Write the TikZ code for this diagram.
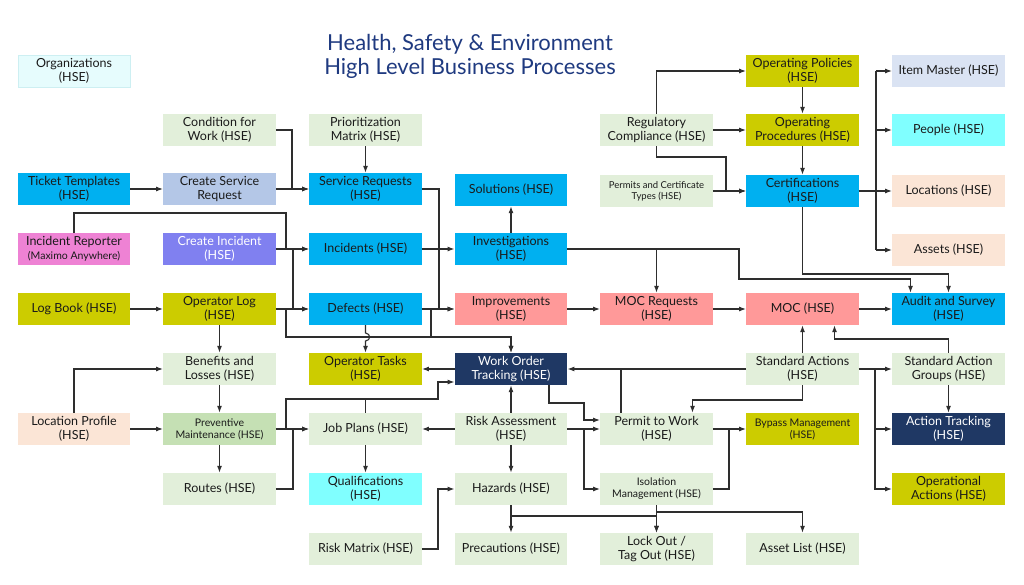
\documentclass[tikz,border=0pt]{standalone}
\usepackage{fontspec}
\setmainfont{Lato}
\usetikzlibrary{arrows.meta,calc}
\definecolor{cblue}{HTML}{00B0F0}
\definecolor{colive}{HTML}{CCCC00}
\definecolor{cpale}{HTML}{E2EFDA}
\definecolor{cpmg}{HTML}{C5E0B4}
\definecolor{csalmon}{HTML}{FF9999}
\definecolor{cnavy}{HTML}{1F3864}
\definecolor{cpeach}{HTML}{FBE5D6}
\definecolor{ccyan}{HTML}{80FFFF}
\definecolor{cimaster}{HTML}{DAE3F3}
\definecolor{ccsr}{HTML}{B4C7E7}
\definecolor{cci}{HTML}{8080F0}
\definecolor{cir}{HTML}{EE82D4}
\definecolor{corg}{HTML}{E6FCFD}
\definecolor{corgb}{HTML}{CDEFF2}
\definecolor{ctitle}{HTML}{1F3A80}
\definecolor{txt}{HTML}{1A1A1A}
\definecolor{linec}{HTML}{2E2E2E}
\begin{document}
\begin{tikzpicture}[x=1pt,y=-1pt,
  box/.style={rectangle, minimum width=112.5pt, minimum height=32pt, inner sep=1pt, align=center, font=\fontsize{12.5}{14}\selectfont, text=txt},
  smallbox/.style={box, font=\fontsize{10.5}{12}\selectfont},
  tinybox/.style={box, font=\fontsize{9.5}{11}\selectfont},
  blue/.style={fill=cblue}, olive/.style={fill=colive}, pale/.style={fill=cpale},
  salmon/.style={fill=csalmon}, navy/.style={fill=cnavy,text=white}, peach/.style={fill=cpeach},
  cyanb/.style={fill=ccyan},
  conn/.style={draw=linec, line width=1.1pt},
  arr/.style={conn, -{Latex[length=7pt,width=5pt]}}]
\useasboundingbox[fill=white] (0,0) rectangle (1024,584);

\node[font=\fontsize{22}{24}\selectfont, text=ctitle, align=center] (title) at (470,56) {Health, Safety \& Environment\\High Level Business Processes};

% column A
\node[box, fill=corg, draw=corgb, line width=0.5pt] (org) at (74,71) {Organizations\\(HSE)};
\node[box, blue] (tt) at (74,189) {Ticket Templates\\(HSE)};
\node[box, fill=cir] (ir) at (74,249) {Incident Reporter\\{\fontsize{10.5}{12}\selectfont(Maximo Anywhere)}};
\node[box, olive] (lb) at (74,309) {Log Book (HSE)};
\node[box, peach] (lp) at (74,429) {Location Profile\\(HSE)};
% column B
\node[box, pale] (cfw) at (219.5,130) {Condition for\\Work (HSE)};
\node[box, fill=ccsr] (csr) at (219.5,189) {Create Service\\Request};
\node[box, fill=cci, text=white] (ci) at (219.5,249) {Create Incident\\(HSE)};
\node[box, olive] (ol) at (219.5,309) {Operator Log\\(HSE)};
\node[box, pale] (bl) at (219.5,369) {Benefits and\\Losses (HSE)};
\node[smallbox, fill=cpmg] (pmn) at (219.5,429) {Preventive\\Maintenance (HSE)};
\node[box, pale] (rt) at (219.5,489) {Routes (HSE)};
% column C
\node[box, pale] (prio) at (365.5,130) {Prioritization\\Matrix (HSE)};
\node[box, blue] (sr) at (365.5,189) {Service Requests\\(HSE)};
\node[box, blue] (inc) at (365.5,249) {Incidents (HSE)};
\node[box, blue] (def) at (365.5,309) {Defects (HSE)};
\node[box, olive] (ot) at (365.5,369) {Operator Tasks\\(HSE)};
\node[box, pale] (jp) at (365.5,429) {Job Plans (HSE)};
\node[box, cyanb] (qual) at (365.5,489) {Qualifications\\(HSE)};
\node[box, pale] (rm) at (365.5,549) {Risk Matrix (HSE)};
% column D
\node[box, blue] (sol) at (511,190) {Solutions (HSE)};
\node[box, blue] (inv) at (511,249) {Investigations\\(HSE)};
\node[box, salmon] (impr) at (511,309) {Improvements\\(HSE)};
\node[box, navy] (wot) at (511,369) {Work Order\\Tracking (HSE)};
\node[box, pale] (ra) at (511,429) {Risk Assessment\\(HSE)};
\node[box, pale] (haz) at (511,489) {Hazards (HSE)};
\node[box, pale] (prec) at (511,549) {Precautions (HSE)};
% column E
\node[box, pale] (rc) at (656.5,130) {Regulatory\\Compliance (HSE)};
\node[tinybox, pale] (perm) at (656.5,191) {Permits and Certificate\\Types (HSE)};
\node[box, salmon] (mocr) at (656.5,309) {MOC Requests\\(HSE)};
\node[box, pale] (ptw) at (656.5,429) {Permit to Work\\(HSE)};
\node[smallbox, pale] (iso) at (656.5,489) {Isolation\\Management (HSE)};
\node[box, pale] (lo) at (656.5,549) {Lock Out /\\Tag Out (HSE)};
% column F
\node[box, olive] (op) at (802.5,71) {Operating Policies\\(HSE)};
\node[box, olive] (opr) at (802.5,130) {Operating\\Procedures (HSE)};
\node[box, blue] (cert) at (802.5,191) {Certifications\\(HSE)};
\node[box, salmon] (moc) at (802.5,309) {MOC (HSE)};
\node[box, pale] (sa) at (802.5,369) {Standard Actions\\(HSE)};
\node[smallbox, olive] (byp) at (802.5,429) {Bypass Management\\(HSE)};
\node[box, pale] (al) at (802.5,549) {Asset List (HSE)};
% column G
\node[box, fill=cimaster] (im) at (948.5,71) {Item Master (HSE)};
\node[box, cyanb] (ppl) at (948.5,130) {People (HSE)};
\node[box, peach] (loc) at (948.5,191) {Locations (HSE)};
\node[box, peach] (ast) at (948.5,250) {Assets (HSE)};
\node[box, blue] (aud) at (948.5,309) {Audit and Survey\\(HSE)};
\node[box, pale] (sag) at (948.5,369) {Standard Action\\Groups (HSE)};
\node[box, navy] (at) at (948.5,429) {Action Tracking\\(HSE)};
\node[box, olive] (oa) at (948.5,489) {Operational\\Actions (HSE)};

% ---- connectors ----
\draw[arr] (tt) -- (csr);
\draw[arr] (cfw.east) -| (292,189) -- (sr.west);
\draw[arr] (csr) -- (sr);
\draw[arr] (prio) -- (sr);
\draw[arr] (sr.east) -| (439,309) -- (impr.west);
\draw[arr] (ir.north) |- (286,213) |- (inc.west);
\draw[arr] (ci) -- (inc);
\draw[arr] (ci.east) -| (293,309) -- (def.west);
\draw[arr] (lb) -- (ol);
\draw[arr] (ol) -- (def);
\draw[arr] (ol.east) -| (286,337) -| (wot.north);
\draw[arr] (def.east) -| (431,337) -| (wot.north);
\draw[arr] (def.south) -- (365.5,333) .. controls (371,333.5) and (371,340.5) .. (365.5,341) -- (ot.north);
\draw[arr] (inc) -- (inv);
\draw[arr] (def) -- (impr);
\draw[arr] (inv) -- (sol);
\draw[arr] (ol) -- (bl);
\draw[arr] (lp.north) |- (bl.west);
\draw[arr] (lp) -- (pmn);
\draw[arr] (bl) -- (pmn);
\draw[arr] (pmn) -- (rt);
\draw[arr] (pmn) -- (jp);
\draw[arr] (pmn.east) -- (286,429) |- (438,399) |- ($(wot.west)+(0,13)$);
\draw[conn] (jp.north) -- (365.5,399);
\draw[arr] (rt.east) -| (293,429) -- (jp.west);
\draw[arr] (jp) -- (qual);
\draw[arr] (ra) -- (jp);
\draw[arr] (ra) -- (wot);
\draw[arr] (ra) -- (haz);
\draw[arr] (rm.east) -| (438,489) -- (haz.west);
\draw[arr] (haz) -- (prec);
\draw[arr] (haz.south) -- (511,516) -| (lo.north);
\draw[arr] (iso) -- (lo);
\draw[arr] (iso.south) -- (656.5,512) -| (al.north);
\draw[arr] (wot) -- (ot);
\draw[arr] (sa) -- (wot);
\draw[conn] ($(ptw.north)+(-35.5,0)$) -- (621,369);
\draw[arr] (sa.south) -- (802.5,400) -| ($(ptw.north)+(36,0)$);
\draw[arr] (sa) -- (moc);
\draw[arr] (sa) -- (sag);
\draw[arr] (sa.east) -- (875,369) |- (at.west);
\draw[arr] (875,369) |- (oa.west);
\draw[arr] (sag.north) |- (834.5,339) -- ($(moc.south)+(32,0)$);
\draw[arr] (sag) -- (at);
\draw[arr] ($(wot.south)+(38,0)$) |- (584,403) |- ($(ptw.west)+(0,-9)$);
\draw[arr] (ra) -- (ptw);
\draw[arr] (ra.east) -- (584,429) |- (iso.west);
\draw[arr] (ptw) -- (byp);
\draw[conn] (iso.east) -| (729,429);
\draw[arr] (inv.east) -| (739,279) -| ($(aud.north)+(-38,0)$);
\draw[arr] (inv.east -| mocr.north) -- (mocr.north);
\draw[arr] (cert.south) -- (802.5,274) -| (aud.north);
\draw[arr] (impr) -- (mocr);
\draw[arr] (mocr) -- (moc);
\draw[arr] (moc) -- (aud);
\draw[arr] (rc.north) |- (op.west);
\draw[arr] (rc) -- (opr);
\draw[arr] (rc.south) -- (656.5,157) -| (726,191) -- (cert.west);
\draw[arr] (perm) -- (cert);
\draw[arr] (op) -- (opr);
\draw[arr] (opr) -- (cert);
\draw[conn] (cert.east) -- (876,191);
\draw[conn] (876,71) -- (876,250);
\draw[arr] (876,71) -- (im.west);
\draw[arr] (876,130) -- (ppl.west);
\draw[arr] (876,191) -- (loc.west);
\draw[arr] (876,250) -- (ast.west);
\end{tikzpicture}
\end{document}
